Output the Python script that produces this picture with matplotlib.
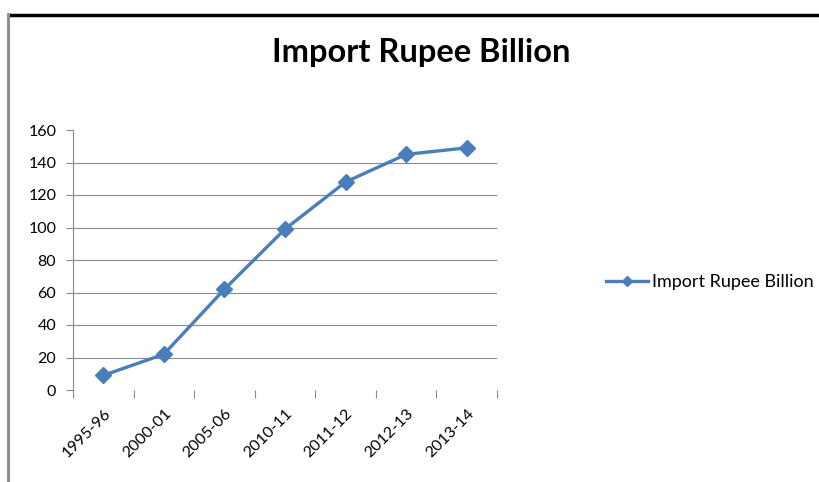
import matplotlib
matplotlib.use("Agg")
import matplotlib.pyplot as plt
from matplotlib.lines import Line2D
import numpy as np

years = ['1995-96', '2000-01', '2005-06', '2010-11', '2011-12', '2012-13', '2013-14']
imports = [9, 22, 62, 99, 128, 145, 149]
y_ticks = [0, 20, 40, 60, 80, 100, 120, 140, 160]

plt.rcParams['font.family'] = ['Lato', 'DejaVu Sans']

W, H = 820, 482
fig = plt.figure(figsize=(W / 100, H / 100), dpi=100)
ax = fig.add_axes([73 / W, 1 - 390 / H, (497 - 73) / W, (390 - 130) / H])

x = np.arange(len(years))
line_color = '#4A7EBB'
ax.plot(x, imports, color=line_color, lw=2.4, marker='D', markersize=8.5,
        markerfacecolor=line_color, markeredgecolor=line_color, label='Import Rupee Billion')

ax.set_xlim(-0.5, len(years) - 0.5)
ax.set_ylim(0, 160)
ax.set_yticks(y_ticks)
ax.set_yticklabels([str(v) for v in y_ticks], fontsize=11.5)
for v in y_ticks[1:-1]:
    ax.axhline(v, color='#8a8a8a', lw=0.8, zorder=0)

ax.set_xticks(x)
ax.set_xticklabels(years, rotation=45, ha='right', rotation_mode='anchor', fontsize=11.5)
ax.set_xticks(np.arange(len(years) + 1) - 0.5, minor=True)
ax.tick_params(axis='x', which='major', length=0, pad=12)
ax.tick_params(axis='x', which='minor', length=6, color='#8a8a8a', width=0.8)
ax.tick_params(axis='y', length=5, color='#8a8a8a', width=0.8, pad=7)

for s in ['top', 'right', 'bottom']:
    ax.spines[s].set_visible(False)
ax.spines['left'].set_color('#8a8a8a')
ax.spines['left'].set_linewidth(0.8)

fig.text(421 / W, 1 - 52 / H, 'Import Rupee Billion', ha='center', va='center',
         fontsize=23.5, fontweight='bold')

ax.legend(loc='center left', bbox_to_anchor=(590 / W, 1 - 282 / H), bbox_transform=fig.transFigure,
          frameon=False, fontsize=13, handlelength=2.3, handletextpad=0.25, markerscale=0.6)

# page frame lines from the scan
fig.add_artist(Line2D([11 / W, 1], [1 - 15 / H, 1 - 15 / H], color='black', lw=2.5))
fig.add_artist(Line2D([8 / W, 8 / W], [0, 1 - 14 / H], color='#888888', lw=2))

fig.savefig('out.png', dpi=100)
